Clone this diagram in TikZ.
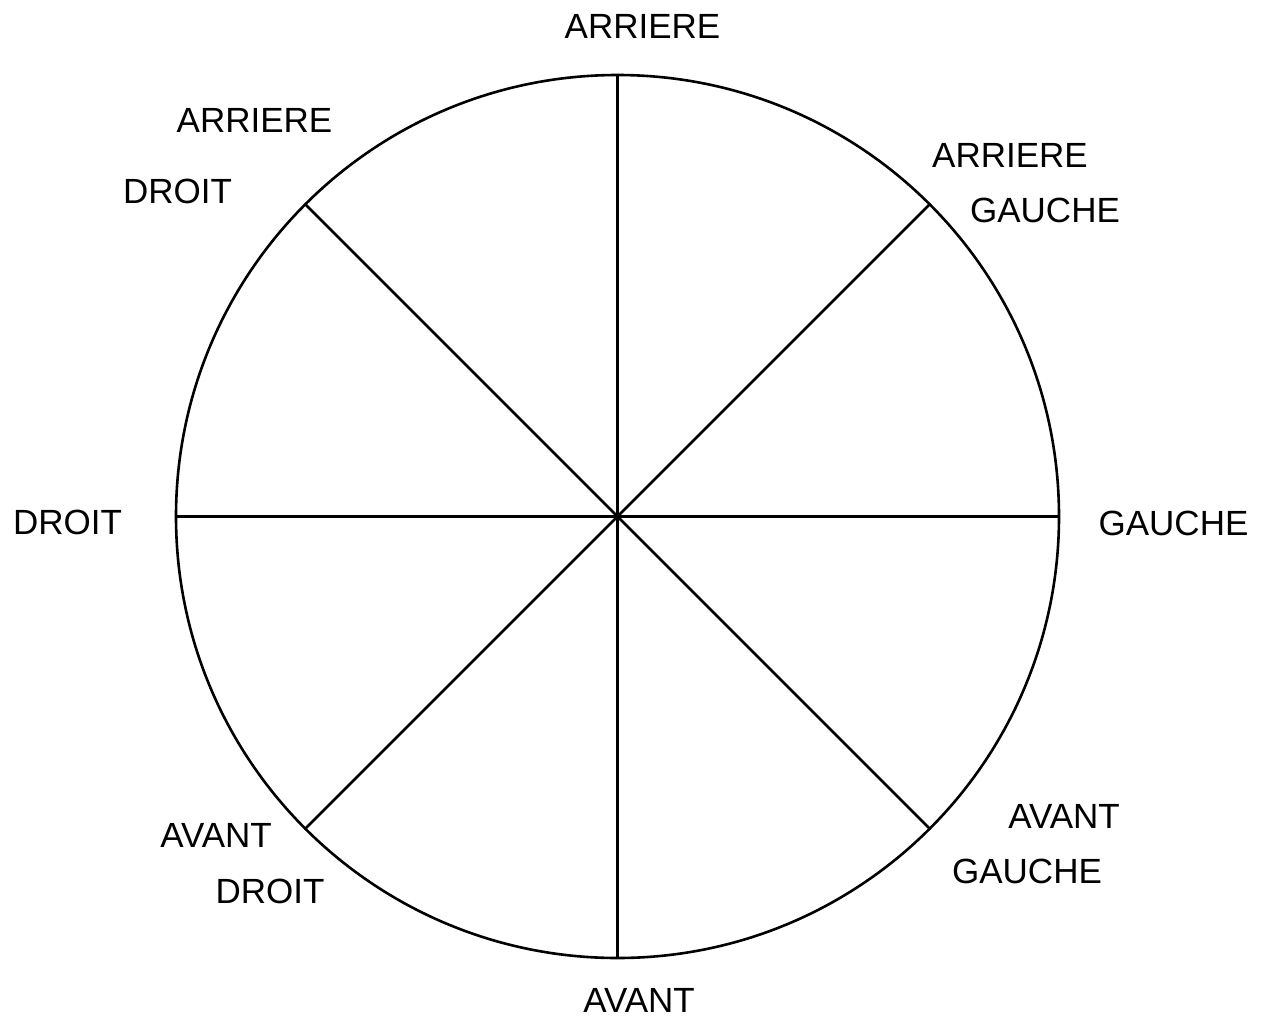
\documentclass[tikz,border=0pt]{standalone}
\usepackage{fontspec}
\setmainfont{Liberation Sans}
\begin{document}
\begin{tikzpicture}[x=1pt,y=1pt,
  lbl/.style={anchor=base,inner sep=0pt,font=\fontsize{35}{42}\selectfont},
  spoke/.style={line width=2.6pt}]
\useasboundingbox (0,0) rectangle (1268,-1017);
\node[circle,draw,line width=2.6pt,minimum size=883pt,inner sep=0pt] (c) at (617.5,-516.5) {};
\draw[spoke] (c.north) -- (c.south);
\draw[spoke] (c.west) -- (c.east);
\draw[spoke] (c.135) -- (c.-45);
\draw[spoke] (c.45) -- (c.-135);
\node[lbl] (t1) at (642.5,-38) {ARRIERE};
\node[lbl] (t2) at (254.5,-132) {ARRIERE};
\node[lbl] (t3) at (177.5,-203) {DROIT};
\node[lbl] (t4) at (1010,-167) {ARRIERE};
\node[lbl] (t5) at (1045,-222) {GAUCHE};
\node[lbl] (t6) at (67.5,-534) {DROIT};
\node[lbl] (t7) at (1173.5,-535) {GAUCHE};
\node[lbl] (t8) at (216,-847) {AVANT};
\node[lbl] (t9) at (270,-903) {DROIT};
\node[lbl] (t10) at (1064,-828) {AVANT};
\node[lbl] (t11) at (1027,-883) {GAUCHE};
\node[lbl] (t12) at (639,-1012) {AVANT};
\end{tikzpicture}
\end{document}
